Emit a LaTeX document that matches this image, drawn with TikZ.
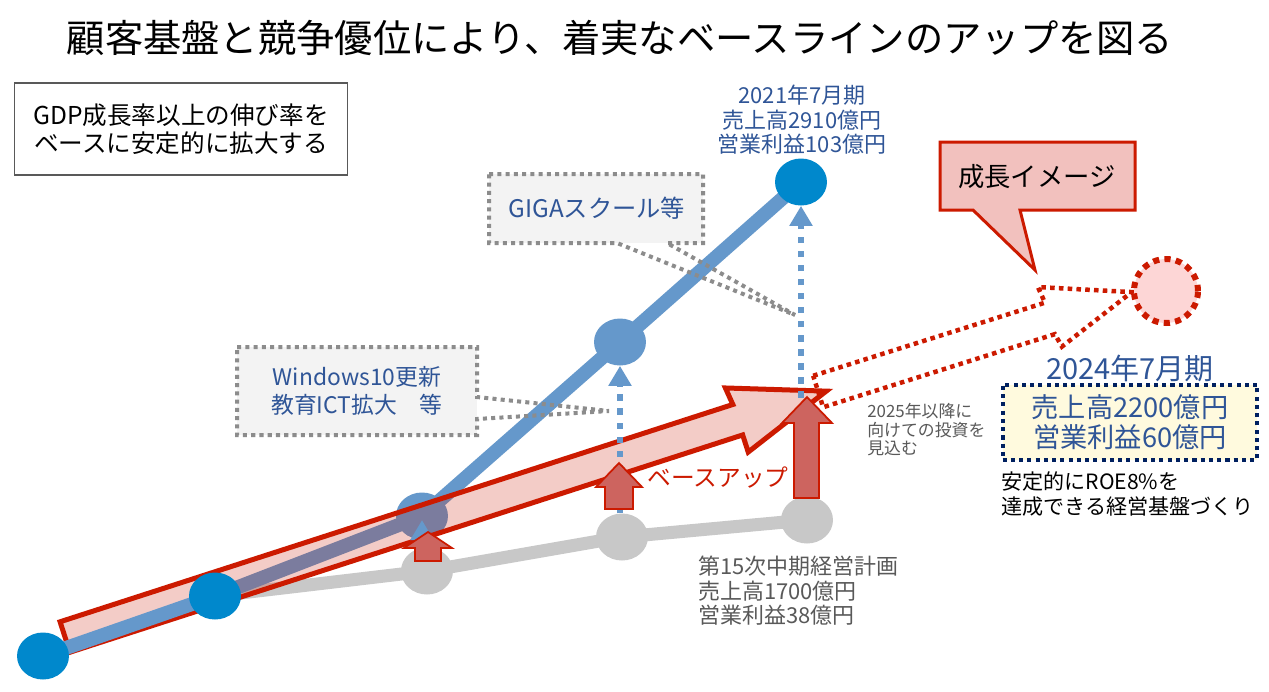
\documentclass[tikz,border=0pt]{standalone}
\usepackage{fontspec}
\setmainfont{Noto Sans CJK JP}
\usetikzlibrary{positioning,arrows.meta,calc,shapes.geometric}
\definecolor{navytext}{RGB}{47,85,151}
\definecolor{steel}{RGB}{101,152,203}
\definecolor{brightblue}{RGB}{0,136,204}
\definecolor{basegray}{RGB}{200,200,200}
\definecolor{darkred}{RGB}{204,26,0}
\definecolor{brick}{RGB}{205,100,95}
\definecolor{softgray}{RGB}{243,243,243}
\definecolor{dotgray}{RGB}{140,140,140}
\definecolor{softpink}{RGB}{242,193,190}
\definecolor{palepink}{RGB}{253,214,214}
\definecolor{softyellow}{RGB}{255,250,222}
\definecolor{navy}{RGB}{0,32,96}
\definecolor{textgray}{RGB}{89,89,89}

\begin{document}
\begin{tikzpicture}[x=0.02cm,y=-0.02cm,
dotnode/.style={ellipse,inner sep=0pt,minimum width=1.04cm,minimum height=.94cm},
bluedot/.style={dotnode,fill=brightblue},
steeldot/.style={dotnode,fill=steel},
graydot/.style={dotnode,fill=basegray},
bline/.style={line width=.28cm,draw=steel},
gline/.style={line width=.26cm,draw=basegray},
uparr/.style={draw=steel,line width=.13cm,dash pattern=on 3.6pt off 4.4pt,
-{Triangle[width=.44cm,length=.4cm]}},
redup/.style={draw=darkred,line width=1pt,fill=brick,line join=miter},
bigarr/.style={draw=darkred,line width=.1cm,fill=darkred,fill opacity=.22,line join=miter},
dotarr/.style={draw=darkred,line width=.09cm,dash pattern=on 2.6pt off 2.4pt},
callout/.style={draw=dotgray,line width=.08cm,dash pattern=on 2.3pt off 2.4pt},
calltext/.style={text=navytext,align=center,font=\fontsize{13}{15.5}\selectfont},
lbl/.style={align=left,anchor=west,inner sep=0pt}]
\fill[white] (0,0) rectangle (1269,691);
\useasboundingbox (0,0) rectangle (1269,691);

\node[font=\fontsize{21.8}{26}\selectfont] (title) at (620,38) {顧客基盤と競争優位により、着実なベースラインのアップを図る};
\node[draw=textgray,line width=.6pt,minimum width=6.66cm,minimum height=1.84cm,align=center,
font=\fontsize{14}{16}\selectfont] (goal) at (181,129) {GDP成長率以上の伸び率を\\ベースに安定的に拡大する};

\coordinate (p1) at (43,656);
\coordinate (p2) at (215,596);
\coordinate (p5) at (801,182);
\node[graydot] (g1) at (427,571) {};
\node[graydot] (g2) at (622,537) {};
\node[graydot] (g3) at (807,520) {};
\draw[gline] (p2) -- (g1.center) -- (g2.center) -- (g3.center);
\node[steeldot] (b3) at (422,516) {};
\node[steeldot] (b4) at (620,342) {};
\draw[bline] (p2) -- (b3.center) -- (b4.center) -- (p5);

\begin{scope}[shift={(65,637)},rotate=17.9]
\draw[bigarr] (0,-16) -- (707,-16) -- (705,-34) -- (800,0) -- (707,34) -- (707,16) -- (0,16) -- cycle;
\end{scope}

\draw[bline] (p1) -- (p2);
\node[bluedot] (b1) at (p1) {};
\node[bluedot] (b2) at (p2) {};
\node[bluedot] (b5) at (p5) {};

\draw[uparr] (g1.north -| b3) -- ($(b3)+(0,4)$);
\draw[uparr] (g2.north -| b4) -- (b4);
\draw[uparr] (g3.north -| b5) -- (b5);

\draw[redup] (415,561) -- (415,548) -- (404,548) -- (428,532) -- (452,548) -- (441,548) -- (441,561) -- cycle;
\draw[redup] (605,509) -- (605,487) -- (596,487) -- (619,463) -- (642,487) -- (633,487) -- (633,509) -- cycle;
\draw[redup] (794,498) -- (794,423) -- (782,423) -- (807,397) -- (832,423) -- (819,423) -- (819,498) -- cycle;
\node[text=darkred,font=\fontsize{13.5}{16}\selectfont] (baseup) at (718,478) {ベースアップ};

\fill[softgray] (489,174) rectangle (703,243);
\draw[callout] (489,174) -- (703,174) -- (703,243) -- (667,243) -- (795,315) -- (617,243) -- (489,243) -- cycle;
\node[calltext,font=\fontsize{13.8}{16}\selectfont] (giga) at (597,208) {GIGAスクール等};
\fill[softgray] (237,347) rectangle (477,435);
\draw[callout] (237,347) -- (477,347) -- (477,397) -- (609,411) -- (477,419) -- (477,435) -- (237,435) -- cycle;
\node[calltext] (win) at (357,391) {Windows10更新\\教育ICT拡大　等};

\node[text=navytext,align=center,font=\fontsize{12.5}{14}\selectfont] (fy21) at (802,120) {2021年7月期\\売上高2910億円\\営業利益103億円};

\begin{scope}[shift={(818,391)},rotate=17.5]
\draw[dotarr] (0,-16) -- (243,-16) -- (241,-33) -- (329,0) -- (246,31) -- (243,17) -- (0,17) -- cycle;
\end{scope}
\node[circle,draw=darkred,fill=palepink,line width=.12cm,dash pattern=on 3.5pt off 3pt,
minimum size=1.28cm] (goal24) at (1166,291) {};
\draw[draw=darkred,fill=softpink,line width=.06cm,line join=miter] (940,142) -- (1135,142) -- (1135,210)
-- (1020,210) -- (1035,270) -- (973,210) -- (940,210) -- cycle;
\node[font=\fontsize{15}{18}\selectfont] (img) at (1037,177) {成長イメージ};

\node[lbl,text=textgray,font=\fontsize{9.6}{10.5}\selectfont] (invest) at (867,430) {2025年以降に\\向けての投資を\\見込む};
\node[text=navytext,font=\fontsize{16.5}{20}\selectfont] (fy24) at (1130,368) {2024年7月期};
\node[draw=navy,fill=softyellow,line width=.08cm,dash pattern=on 2.3pt off 2.4pt,minimum width=5.1cm,
minimum height=1.5cm,align=center,text=navytext,font=\fontsize{15.5}{17}\selectfont] (target) at (1130,422) {売上高2200億円\\営業利益60億円};
\node[lbl,font=\fontsize{12}{14}\selectfont] (roe) at (1001,494) {安定的にROE8\%を\\達成できる経営基盤づくり};
\node[lbl,text=textgray,font=\fontsize{12.5}{14}\selectfont] (plan15) at (698,591) {第15次中期経営計画\\売上高1700億円\\営業利益38億円};
\end{tikzpicture}
\end{document}
